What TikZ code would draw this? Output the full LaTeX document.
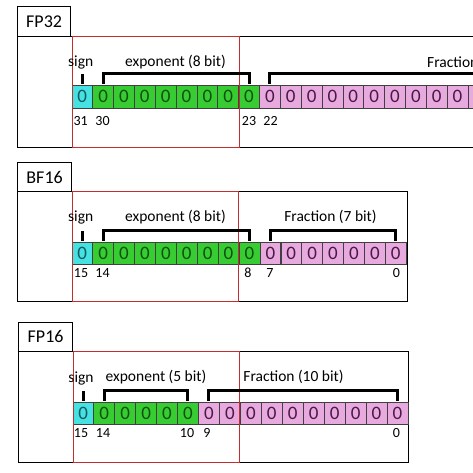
\documentclass[tikz,border=0pt]{standalone}
\usepackage{fontspec}
\setmainfont{Carlito}
\definecolor{signc}{RGB}{70,225,225}
\definecolor{expc}{RGB}{55,205,50}
\definecolor{fracc}{RGB}{232,170,222}
\definecolor{signt}{RGB}{20,90,100}
\definecolor{expt}{RGB}{15,80,15}
\definecolor{fract}{RGB}{75,25,70}
\definecolor{redline}{RGB}{195,45,45}
\begin{document}
\begin{tikzpicture}[x=1pt,y=-1pt,
  cellbase/.style={draw=black!75, line width=0.6pt, minimum width=20.85pt, minimum height=23pt,
    inner sep=0pt, anchor=north west, font=\fontsize{19}{19}\selectfont},
  sgncell/.style={cellbase, fill=signc, text=signt},
  expcell/.style={cellbase, fill=expc, text=expt},
  fraccell/.style={cellbase, fill=fracc, text=fract},
  titlebox/.style={draw=black, line width=1.2pt, anchor=north west, inner sep=0pt,
    font=\fontsize{18}{18}\selectfont},
  mainbox/.style={draw=black, line width=1.2pt, anchor=north west, inner sep=0pt},
  redbox/.style={draw=redline, line width=0.9pt, anchor=north west, inner sep=0pt},
  brk/.style={line width=3pt, line cap=butt, line join=miter},
  lbl/.style={font=\fontsize{15.5}{15.5}\selectfont, inner sep=0pt},
  bitnum/.style={font=\fontsize{14}{14}\selectfont, inner sep=0pt}
]
\useasboundingbox (0,0) rectangle (473,473);
\clip (0,0) rectangle (473,473);

% ---------------- FP32 ----------------
\node[titlebox, minimum width=53pt, minimum height=30pt] (t32) at (17,6) {FP32};
\node[mainbox, minimum width=480pt, minimum height=111pt] (m32) at (17,36) {};
\node[sgncell] (a31) at (71.5,85) {0};
\foreach \i in {1,...,8}{\pgfmathtruncatemacro\b{31-\i}
  \node[expcell] (a\b) at (71.5+\i*20.85,85) {0};}
\foreach \i in {9,...,18}{\pgfmathtruncatemacro\b{31-\i}
  \node[fraccell] (a\b) at (71.5+\i*20.85,85) {0};}
\node[fraccell] (a12) at (71.5+19*20.85,85) {};
\coordinate (a0top) at (480,84);
\node[redbox, minimum width=167.8pt, minimum height=111pt] (r32) at (71.5,36) {};
\draw[brk] ([yshift=1pt]a31.north) -- ++(0,-10);
\draw[brk] ([yshift=1pt]a30.north) -- ++(0,-10.5) -| ([yshift=1pt]a23.north);
\draw[brk] ([yshift=1pt]a22.north) -- ++(0,-10.5) -| (a0top);
\node[lbl] (s32) at (80.7,62.5) {sign};
\node[lbl] (e32) at (175.5,62.5) {exponent (8 bit)};
\node[lbl, anchor=west] (f32) at (427,62.5) {Fraction (23 bit)};
\node[bitnum] (n31) at (80.7,121) {31};
\node[bitnum] (n30) at (102.5,121) {30};
\node[bitnum] (n23) at (249,121) {23};
\node[bitnum] (n22) at (270.5,121) {22};

% ---------------- BF16 ----------------
\node[titlebox, minimum width=54pt, minimum height=29pt] (t16b) at (17,162) {BF16};
\node[mainbox, minimum width=389.7pt, minimum height=110pt] (m16b) at (17,191) {};
\node[sgncell, minimum height=22.6pt] (b15) at (71.5,241.7) {0};
\foreach \i in {1,...,8}{\pgfmathtruncatemacro\b{15-\i}
  \node[expcell, minimum height=22.6pt] (b\b) at (71.5+\i*20.9,241.7) {0};}
\foreach \i in {9,...,15}{\pgfmathtruncatemacro\b{15-\i}
  \node[fraccell, minimum height=22.6pt] (b\b) at (71.5+\i*20.9,241.7) {0};}
\node[redbox, minimum width=166.8pt, minimum height=110pt] (r16b) at (71.5,191) {};
\draw[brk] ([yshift=1pt]b15.north) -- ++(0,-10);
\draw[brk] ([yshift=1pt]b14.north) -- ++(0,-10.5) -| ([yshift=1pt]b7.north);
\draw[brk] ([yshift=1pt]b6.north) -- ++(0,-10.5) -| ([yshift=1pt]b0.north);
\node[lbl] (s16b) at (80.7,217) {sign};
\node[lbl] (e16b) at (175.5,217) {exponent (8 bit)};
\node[lbl] (f16b) at (330.5,216.5) {Fraction (7 bit)};
\node[bitnum] (nb15) at (81,272.7) {15};
\node[bitnum] (nb14) at (102.5,272.7) {14};
\node[bitnum] (nb8) at (248,272.7) {8};
\node[bitnum] (nb7) at (270,272.7) {7};
\node[bitnum] (nb0) at (396.5,272.7) {0};

% ---------------- FP16 ----------------
\node[titlebox, minimum width=54pt, minimum height=29pt] (t16) at (18,321.7) {FP16};
\node[mainbox, minimum width=389.7pt, minimum height=111pt] (m16) at (18,350.7) {};
\node[sgncell, minimum height=22.3pt] (c15) at (72.5,401.7) {0};
\foreach \i in {1,...,5}{\pgfmathtruncatemacro\b{15-\i}
  \node[expcell, minimum height=22.3pt] (c\b) at (72.5+\i*20.95,401.7) {0};}
\foreach \i in {6,...,15}{\pgfmathtruncatemacro\b{15-\i}
  \node[fraccell, minimum height=22.3pt] (c\b) at (72.5+\i*20.95,401.7) {0};}
\node[redbox, minimum width=166.8pt, minimum height=111pt] (r16) at (72.5,350.7) {};
\draw[brk] ([yshift=1pt]c15.north) -- ++(0,-10);
\draw[brk] ([yshift=1pt]c14.north) -- ++(0,-10.5) -| ([yshift=1pt]c10.north);
\draw[brk] ([yshift=1pt]c9.north) -- ++(0,-10.5) -| ([yshift=1pt]c0.north);
\node[lbl] (s16) at (81,378) {sign};
\node[lbl] (e16) at (156,377.5) {exponent (5 bit)};
\node[lbl] (f16) at (293.5,377) {Fraction (10 bit)};
\node[bitnum] (nc15) at (81,432.7) {15};
\node[bitnum] (nc14) at (103,432.7) {14};
\node[bitnum] (nc10) at (187,432.7) {10};
\node[bitnum] (nc9) at (207,432.7) {9};
\node[bitnum] (nc0) at (396.5,432.7) {0};
\end{tikzpicture}
\end{document}
